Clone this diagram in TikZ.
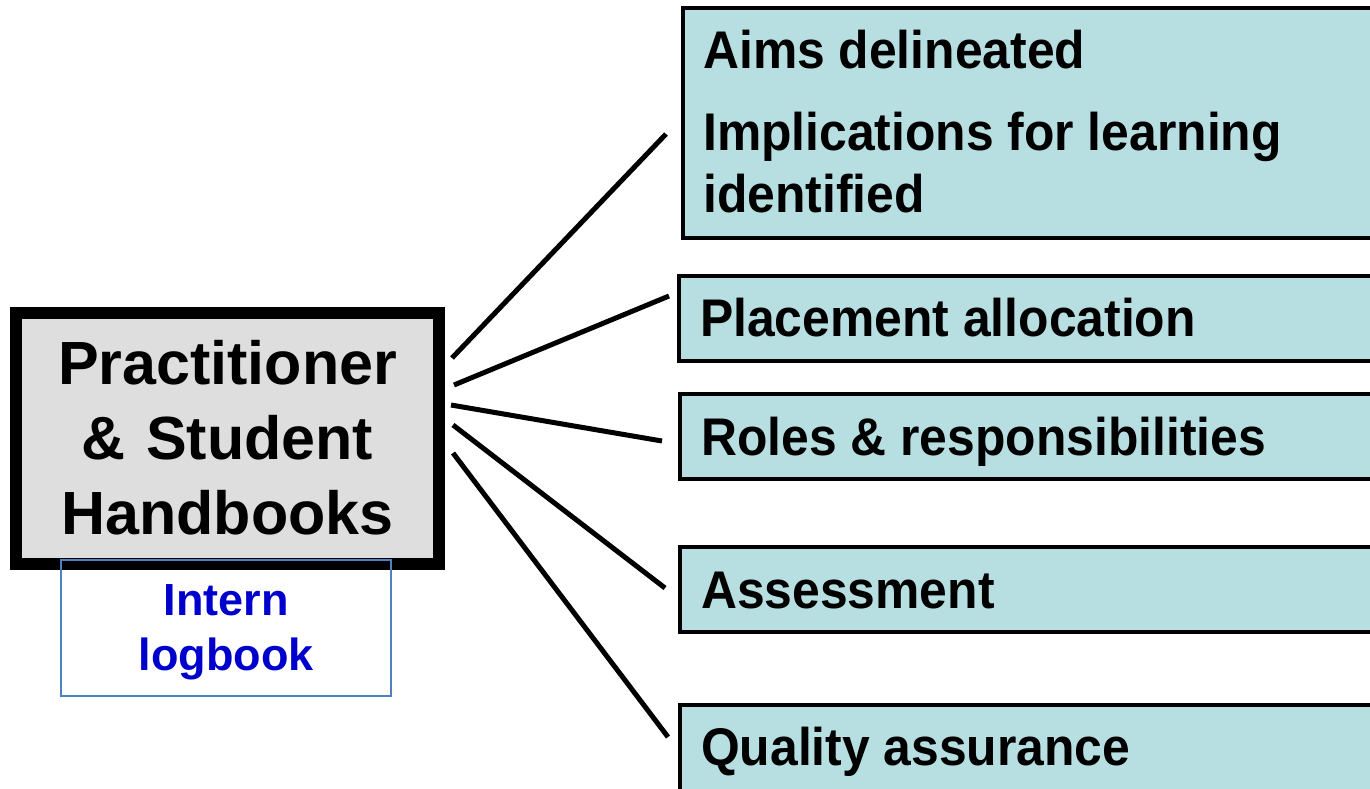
\documentclass[tikz,border=0pt]{standalone}
\usepackage{fontspec}
\setmainfont{Liberation Sans}
\newfontfamily\boxfont{Liberation Sans}[FakeStretch=0.94]
\definecolor{boxblue}{RGB}{183,223,225}
\definecolor{maingray}{RGB}{222,222,222}
\definecolor{logborder}{RGB}{79,129,189}
\definecolor{logtext}{RGB}{0,0,204}
\tikzset{
  rbox/.style={draw=black, line width=4pt, fill=boxblue, anchor=north west, outer sep=0pt, inner sep=0pt, minimum width=720pt},
  rtext/.style={anchor=base west, inner sep=0pt, font=\boxfont\bfseries\fontsize{53}{62}\selectfont, align=left},
  mainbox/.style={draw=black, line width=12pt, fill=maingray, anchor=north west, outer sep=0pt, inner sep=0pt, minimum width=423pt, minimum height=251.5pt},
  maintext/.style={anchor=base, inner sep=0pt, font=\bfseries\fontsize{61}{75}\selectfont, align=center, text width=420pt},
  logbox/.style={draw=logborder, line width=1.3pt, anchor=north west, outer sep=0pt, inner sep=0pt, minimum width=330pt, minimum height=136pt},
  logtext/.style={anchor=base, inner sep=0pt, text=logtext, font=\bfseries\fontsize{45}{55}\selectfont, align=center, text width=320pt},
  conn/.style={draw=black, line width=5pt}
}
\begin{document}
\begin{tikzpicture}[x=1pt,y=-1pt]
\useasboundingbox (0,0) rectangle (1370,788);
% main box
\node[mainbox] (main) at (16,312.5) {};
\node[maintext] (mainlabel) at (227.5,384) {Practitioner\\\& Student\\Handbooks};
% logbook
\node[logbox] (log) at (61,560) {};
\node[logtext] (loglabel) at (226,615) {Intern\\logbook};
% right boxes
\node[rbox, minimum height=230pt] (b1) at (683,8) {};
\node[rbox, minimum height=85pt] (b2) at (679,276) {};
\node[rbox, minimum height=85pt] (b3) at (680,394) {};
\node[rbox, minimum height=85pt] (b4) at (680,547) {};
\node[rbox, minimum height=100pt] (b5) at (680,705) {};
\node[rtext] (t1a) at (703,68) {Aims delineated};
\node[rtext] (t1b) at (703,212) {Implications for learning\\identified};
\node[rtext] (t2) at (700,336) {Placement allocation};
\node[rtext] (t3) at (701,455) {Roles \& responsibilities};
\node[rtext] (t4) at (701,608) {Assessment};
\node[rtext] (t5) at (701,765) {Quality assurance};
% connector ends
\coordinate (s1) at (452,358); \coordinate (e1) at (666,134);
\coordinate (s2) at (454,385); \coordinate (e2) at (669,296);
\coordinate (s3) at (451,405); \coordinate (e3) at (662,441);
\coordinate (s4) at (453,425); \coordinate (e4) at (665,588);
\coordinate (s5) at (453,453); \coordinate (e5) at (668,737);
\draw[conn] (s1) -- (e1);
\draw[conn] (s2) -- (e2);
\draw[conn] (s3) -- (e3);
\draw[conn] (s4) -- (e4);
\draw[conn] (s5) -- (e5);
\end{tikzpicture}
\end{document}
